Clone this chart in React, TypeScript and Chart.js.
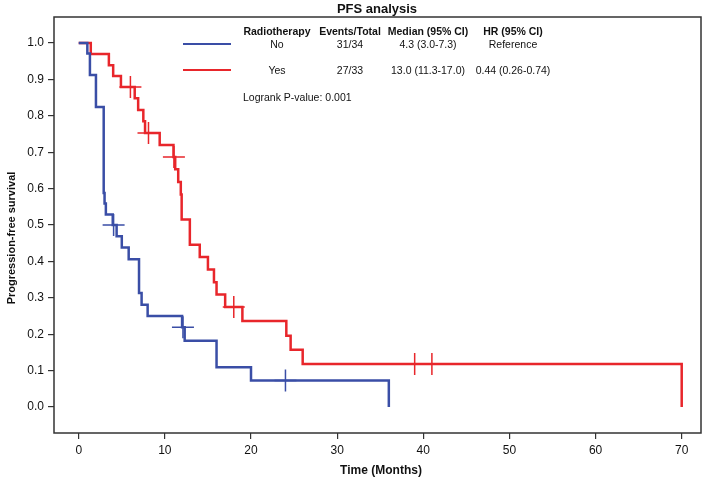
import React, { useEffect, useRef } from 'react';
import { Chart, registerables } from 'chart.js';

Chart.register(...registerables);

const FONT = '"Liberation Sans", Arial, Helvetica, sans-serif';

// Kaplan-Meier step points: time (months) and survival after the step
const noTimes = [0, 1.0, 1.3, 2.0, 2.9, 3.0, 3.15, 3.95, 4.4, 5.0, 5.8, 7.0, 7.3, 8.0, 12.0, 12.3, 16.0, 20.0, 36.0];
const noSurv = [1.0, 0.971, 0.912, 0.824, 0.588, 0.559, 0.529, 0.5, 0.469, 0.438, 0.406, 0.313, 0.281, 0.25, 0.219, 0.182, 0.109, 0.073, 0.0];
const noCensorTimes = [4.05, 12.1, 24.0];
const noCensorSurv = [0.5, 0.219, 0.073];

const yesTimes = [0, 1.4, 3.5, 4.0, 4.9, 6.5, 6.9, 7.5, 7.7, 9.4, 11.0, 11.2, 11.55, 11.85, 11.95, 12.9, 14.05, 15.0, 15.7, 16.0, 17.0, 19.0, 24.1, 24.6, 26.0, 70.0];
const yesSurv = [1.0, 0.970, 0.939, 0.909, 0.879, 0.848, 0.816, 0.785, 0.753, 0.720, 0.687, 0.653, 0.618, 0.584, 0.515, 0.446, 0.412, 0.378, 0.343, 0.309, 0.275, 0.236, 0.196, 0.157, 0.118, 0.0];
const yesCensorTimes = [6.0, 8.1, 11.05, 18.0, 39.0, 41.0];
const yesCensorSurv = [0.879, 0.753, 0.687, 0.275, 0.118, 0.118];

const xTicks = [0, 10, 20, 30, 40, 50, 60, 70];
const yTicks = [0, 0.1, 0.2, 0.3, 0.4, 0.5, 0.6, 0.7, 0.8, 0.9, 1.0];

const tableHeader = ['Radiotherapy', 'Events/Total', 'Median (95% CI)', 'HR (95% CI)'];
const tableRowNo = ['No', '31/34', '4.3 (3.0-7.3)', 'Reference'];
const tableRowYes = ['Yes', '27/33', '13.0 (11.3-17.0)', '0.44 (0.26-0.74)'];
const pValueText = 'Logrank P-value: 0.001';

const BLUE = '#3a4ea6';
const RED = '#e8262b';

const toPts = (t: number[], s: number[]) => t.map((v, i) => ({ x: v, y: s[i] }));

const overlay = {
  id: 'overlay',
  afterDraw(chart: any) {
    const ctx = chart.ctx as CanvasRenderingContext2D;
    const a = chart.chartArea;
    ctx.save();
    // frame
    ctx.strokeStyle = '#333';
    ctx.lineWidth = 1.5;
    ctx.strokeRect(a.left, a.top, a.right - a.left, a.bottom - a.top);

    ctx.fillStyle = '#111';
    ctx.textAlign = 'center';
    ctx.textBaseline = 'middle';
    // title
    ctx.font = `bold 13px ${FONT}`;
    ctx.fillText('PFS analysis', 377, 9);
    // x title
    ctx.font = `bold 12px ${FONT}`;
    ctx.fillText('Time (Months)', 381, 471);
    // y title
    ctx.save();
    ctx.translate(12, 238);
    ctx.rotate(-Math.PI / 2);
    ctx.font = `bold 11px ${FONT}`;
    ctx.fillText('Progression-free survival', 0, 0);
    ctx.restore();

    // legend table
    const colX = [277, 350, 428, 513];
    ctx.font = `bold 10.5px ${FONT}`;
    tableHeader.forEach((t, i) => ctx.fillText(t, colX[i], 32));
    ctx.font = `10.5px ${FONT}`;
    tableRowNo.forEach((t, i) => ctx.fillText(t, colX[i], 45));
    tableRowYes.forEach((t, i) => ctx.fillText(t, colX[i], 71));
    ctx.textAlign = 'left';
    ctx.fillText(pValueText, 243, 98);

    ctx.lineWidth = 2;
    ctx.strokeStyle = BLUE;
    ctx.beginPath();
    ctx.moveTo(183, 44);
    ctx.lineTo(231, 44);
    ctx.stroke();
    ctx.strokeStyle = RED;
    ctx.beginPath();
    ctx.moveTo(183, 70);
    ctx.lineTo(231, 70);
    ctx.stroke();
    ctx.restore();
  },
};

export default function App() {
  const ref = useRef<HTMLCanvasElement>(null);
  useEffect(() => {
    if (!ref.current) return;
    const chart = new Chart(ref.current, {
      type: 'line',
      data: {
        datasets: [
          {
            data: toPts(noTimes, noSurv),
            borderColor: BLUE,
            borderWidth: 2.5,
            pointRadius: 0,
            stepped: true,
            fill: false,
          },
          {
            data: toPts(noCensorTimes, noCensorSurv),
            showLine: false,
            pointStyle: 'cross',
            pointRadius: 11,
            pointBorderWidth: 1.5,
            pointBorderColor: BLUE,
            borderColor: BLUE,
          },
          {
            data: toPts(yesTimes, yesSurv),
            borderColor: RED,
            borderWidth: 2.5,
            pointRadius: 0,
            stepped: true,
            fill: false,
          },
          {
            data: toPts(yesCensorTimes, yesCensorSurv),
            showLine: false,
            pointStyle: 'cross',
            pointRadius: 11,
            pointBorderWidth: 1.5,
            pointBorderColor: RED,
            borderColor: RED,
          },
        ],
      },
      options: {
        responsive: false,
        animation: false,
        layout: { autoPadding: false, padding: { top: 17, right: 8, left: 0, bottom: 0 } },
        plugins: {
          legend: { display: false },
          tooltip: { enabled: false },
          title: { display: false },
        },
        scales: {
          x: {
            type: 'linear',
            min: -2.87,
            max: 72.24,
            afterBuildTicks: (s: any) => {
              s.ticks = xTicks.map((v) => ({ value: v }));
            },
            afterFit: (s: any) => {
              s.height = 48;
            },
            grid: { display: true, drawOnChartArea: false, drawTicks: true, tickLength: 6, color: '#333', lineWidth: 1.2 },
            border: { display: false },
            ticks: {
              color: '#111',
              padding: 4,
              maxRotation: 0,
              font: { family: FONT, size: 12 },
              callback: (v: any) => String(v),
            },
          },
          y: {
            type: 'linear',
            min: -0.0714,
            max: 1.0714,
            afterBuildTicks: (s: any) => {
              s.ticks = yTicks.map((v) => ({ value: v }));
            },
            afterFit: (s: any) => {
              s.width = 54;
            },
            grid: { display: true, drawOnChartArea: false, drawTicks: true, tickLength: 6, color: '#333', lineWidth: 1.2 },
            border: { display: false },
            ticks: {
              color: '#111',
              padding: 4,
              font: { family: FONT, size: 12 },
              callback: (v: any) => Number(v).toFixed(1),
            },
          },
        },
      },
      plugins: [overlay],
    });
    return () => chart.destroy();
  }, []);
  return (
    <div style={{ position: 'absolute', left: 0, top: 0, width: 709, height: 481, background: '#fff' }}>
      <canvas ref={ref} width={709} height={481} style={{ display: 'block' }} />
    </div>
  );
}
